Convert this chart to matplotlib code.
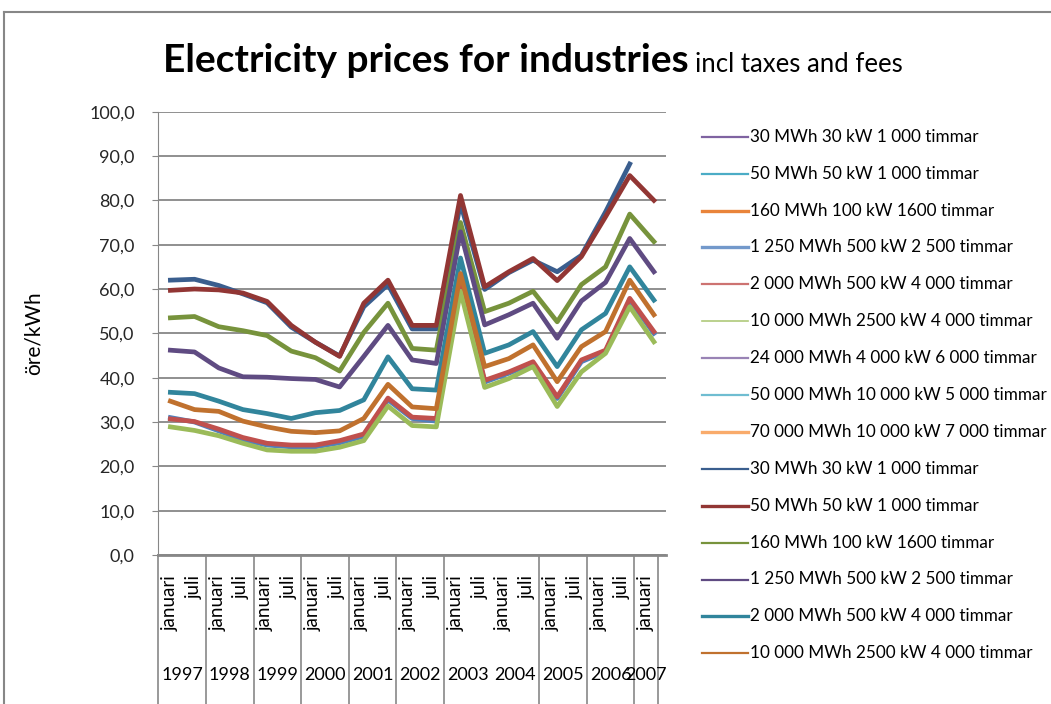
import matplotlib
matplotlib.use('Agg')
import matplotlib.pyplot as plt
import numpy as np
from matplotlib.lines import Line2D

plt.rcParams['font.family'] = ['Lato', 'DejaVu Sans']

W, H = 1051, 704
GRAY = '#878787'

MONTHS = ['januari', 'juli'] * 10 + ['januari']
YEARS = ['1997', '1998', '1999', '2000', '2001', '2002', '2003', '2004', '2005', '2006', '2007']

nan = float('nan')

# lines that are visible in the plot area (ore/kWh)
low_blue = [31.0, 30.0, 28.0, 26.0, 24.8, 24.4, 24.4, 25.3, 26.8, 35.0, 30.8,
            30.2, 60.8, 39.0, 41.0, 43.2, 35.3, 43.6, 45.9, 57.5, 50.0]
low_red = [30.7, 30.1, 28.4, 26.5, 25.2, 24.8, 24.8, 25.8, 27.3, 35.4, 31.1,
           30.8, 61.5, 39.4, 41.3, 43.6, 35.7, 44.0, 46.2, 57.9, 50.4]
low_green = [28.9, 28.1, 26.9, 25.2, 23.7, 23.4, 23.4, 24.3, 25.8, 33.6, 29.2,
             28.9, 59.5, 37.8, 39.8, 42.5, 33.5, 41.3, 45.5, 56.0, 48.1]
mwh_30 = [62.0, 62.2, 60.8, 58.9, 56.9, 51.4, 48.0, 44.9, 56.0, 61.0, 51.0,
          51.0, 79.3, 59.9, 63.7, 66.5, 63.9, 67.6, 77.4, 88.2, nan]
mwh_50 = [59.7, 60.0, 59.8, 59.1, 57.2, 51.8, 48.0, 44.8, 56.8, 62.0, 51.8,
          51.8, 81.1, 60.5, 63.9, 66.9, 61.9, 67.3, 76.3, 85.6, 80.0]
mwh_160 = [53.5, 53.8, 51.5, 50.6, 49.5, 46.0, 44.5, 41.5, 50.2, 56.8, 46.6,
           46.2, 75.0, 54.9, 56.8, 59.5, 52.6, 61.0, 65.0, 76.9, 70.7]
mwh_1250 = [46.2, 45.8, 42.2, 40.2, 40.1, 39.8, 39.6, 37.9, 44.8, 51.8, 44.0,
            43.2, 72.9, 51.9, 54.2, 56.8, 48.9, 57.3, 61.5, 71.4, 63.9]
mwh_2000 = [36.7, 36.4, 34.7, 32.8, 31.9, 30.8, 32.1, 32.6, 35.0, 44.7, 37.5,
            37.2, 67.0, 45.5, 47.4, 50.4, 42.5, 50.8, 54.5, 65.0, 57.5]
mwh_10000 = [34.7, 32.8, 32.4, 30.2, 28.9, 27.9, 27.6, 28.0, 30.8, 38.5, 33.4,
             33.0, 63.5, 42.5, 44.3, 47.4, 39.1, 47.0, 50.4, 62.0, 54.2]

LEGEND_LABELS = [
    '30 MWh 30 kW 1 000 timmar',
    '50 MWh 50 kW 1 000 timmar',
    '160 MWh 100 kW 1600 timmar',
    '1 250 MWh 500 kW 2 500 timmar',
    '2 000 MWh 500 kW 4 000 timmar',
    '10 000 MWh 2500 kW 4 000 timmar',
    '24 000 MWh 4 000 kW 6 000 timmar',
    '50 000 MWh 10 000 kW 5 000 timmar',
    '70 000 MWh 10 000 kW 7 000 timmar',
    '30 MWh 30 kW 1 000 timmar',
    '50 MWh 50 kW 1 000 timmar',
    '160 MWh 100 kW 1600 timmar',
    '1 250 MWh 500 kW 2 500 timmar',
    '2 000 MWh 500 kW 4 000 timmar',
    '10 000 MWh 2500 kW 4 000 timmar',
]
LEGEND_COLORS = ['#7F63A1', '#4BACC6', '#E9843A', '#7399CB', '#CD7371', '#AFC97A',
                 '#9983B5', '#6FBDD1', '#F9AB6B', '#3A5E8E', '#923634', '#77933C',
                 '#5F4B82', '#31859C', '#C0712E']
LEGEND_WIDTHS = [1.6, 1.6, 2.4, 2.4, 1.6, 1.2, 1.6, 1.6, 2.4, 1.6, 2.4, 1.6, 1.6, 2.4, 1.6]


def main():
    fig = plt.figure(figsize=(W / 100, H / 100), dpi=100)
    ax = fig.add_axes([158.3 / W, (H - 555) / H, (666 - 158.3) / W, (555 - 111.7) / H])

    xs = np.arange(len(MONTHS))
    ax.plot(xs, low_blue, color='#4F81BD', lw=3.4)
    ax.plot(xs, low_red, color='#C0504D', lw=3.4)
    ax.plot(xs, low_green, color='#9BBB59', lw=3.4)
    for ys, clr in zip([mwh_30, mwh_50, mwh_160, mwh_1250, mwh_2000, mwh_10000], LEGEND_COLORS[9:]):
        ax.plot(xs, ys, color=clr, lw=3.4)

    ax.set_xlim(-0.5, len(MONTHS) - 0.5)
    ax.set_ylim(0, 100)
    ax.set_yticks(np.arange(0, 101, 10))
    ax.set_yticklabels([f'{v:.1f}'.replace('.', ',') for v in np.arange(0, 101, 10)])
    ax.tick_params(axis='y', length=4, color=GRAY, labelsize=13, labelcolor='#262626', pad=13)
    ax.set_xticks([])
    ax.grid(axis='y', color=GRAY, lw=1.3)
    ax.set_axisbelow(True)
    for side in ['top', 'right']:
        ax.spines[side].set_visible(False)
    ax.spines['left'].set_color(GRAY)
    ax.spines['bottom'].set_color(GRAY)
    ax.spines['bottom'].set_linewidth(2)
    ax.set_ylabel('öre/kWh', fontsize=15)
    ax.yaxis.set_label_coords((44 - 158.3) / (666 - 158.3), 0.5)

    # category table under the axis (excel draws it slightly narrower)
    scale = 500.0 / (666 - 158.3)
    n = len(MONTHS)
    px = 1.0 / (555 - 111.7)
    for i, m in enumerate(MONTHS):
        ax.text(scale * (i + 0.5) / n, -20 * px, m, rotation=90, ha='center', va='top',
                fontsize=13.5, transform=ax.transAxes, clip_on=False)
    for k, yr in enumerate(YEARS):
        cx = (2 * k + 1) / n if k < 10 else (2 * k + 0.5) / n
        ax.text(scale * cx, -120 * px, yr, ha='center', va='center', fontsize=13,
                transform=ax.transAxes, clip_on=False)
    bounds = [0, 2, 4, 6, 8, 10, 12, 16, 18, 20, 21]
    for b in bounds:
        ax.plot([scale * b / n] * 2, [0, -(H - 555) * px], color=GRAY, lw=1.2,
                transform=ax.transAxes, clip_on=False)

    # outer chart border
    fig.add_artist(Line2D([4 / W, 4 / W], [0, 1 - 12 / H], color=GRAY, lw=1.5))
    fig.add_artist(Line2D([4 / W, 1], [1 - 12 / H, 1 - 12 / H], color=GRAY, lw=1.5))

    fig.text(163 / W, 1 - 72 / H, 'Electricity prices for industries', fontsize=28,
             fontweight='bold', va='baseline')
    fig.text(695 / W, 1 - 72 / H, 'incl taxes and fees', fontsize=18.5, va='baseline')

    # legend
    for k, (lbl, clr, lw) in enumerate(zip(LEGEND_LABELS, LEGEND_COLORS, LEGEND_WIDTHS)):
        y = 1 - (136.7 + 36.9 * k) / H
        fig.add_artist(Line2D([702 / W, 748 / W], [y, y], color=clr, lw=lw))
        fig.text(750 / W, y, lbl, fontsize=12.3, va='center')

    fig.savefig('out.png', dpi=100)


if __name__ == '__main__':
    main()
